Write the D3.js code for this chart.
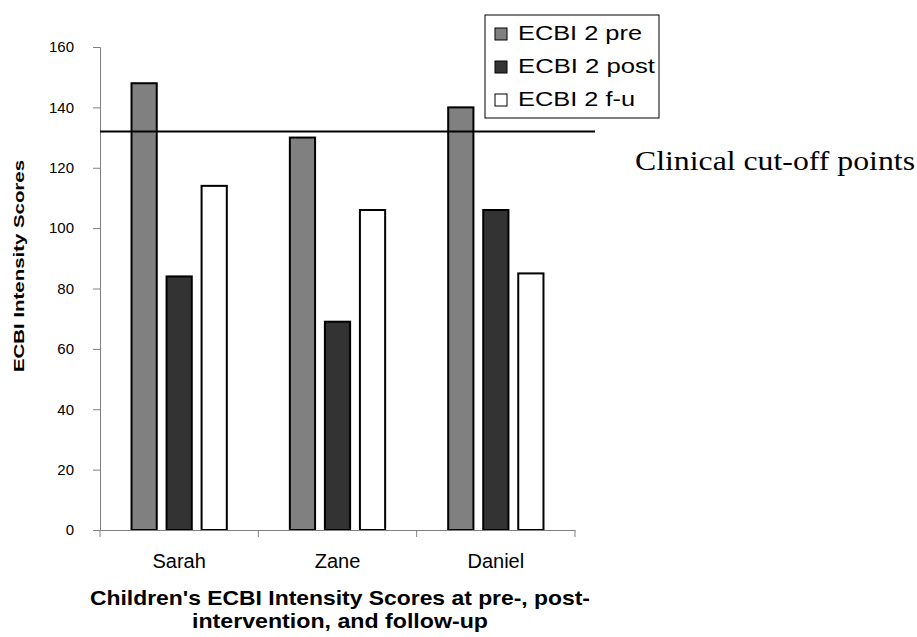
<!DOCTYPE html>
<html>
<head>
<meta charset="utf-8">
<script src="https://cdn.jsdelivr.net/npm/d3@7"></script>
<style>
  body { margin: 0; background: #fff; }
  svg { display: block; font-family: "Liberation Sans", Arial, sans-serif; }
</style>
</head>
<body>
<div id="chart"></div>
<script>
// data
var children = ["Sarah", "Zane", "Daniel"];
var seriesNames = ["ECBI 2 pre", "ECBI 2 post", "ECBI 2 f-u"];
var preScores = [148, 130, 140];
var postScores = [84, 69, 106];
var fuScores = [114, 106, 85];
var cutOff = 132;
var yTicks = [0, 20, 40, 60, 80, 100, 120, 140, 160];

var svgWidth = 917;
var svgHeight = 637;

var margin = { top: 47, right: 342, bottom: 107, left: 100 };
var width = svgWidth - margin.left - margin.right;
var height = svgHeight - margin.top - margin.bottom;

var fills = ["#808080", "#333333", "#ffffff"];
var axisColor = "#808080";

var svg = d3.select("#chart")
    .append("svg")
    .attr("width", svgWidth)
    .attr("height", svgHeight);

var chartGroup = svg.append("g")
    .attr("transform", `translate(${margin.left}, ${margin.top})`);

var x0 = d3.scaleBand()
    .domain(children)
    .range([0, width]);

var x1 = d3.scaleBand()
    .domain(seriesNames)
    .range([0, x0.bandwidth()])
    .paddingInner(0.28)
    .paddingOuter(0.9);

var y = d3.scaleLinear()
    .domain([0, 160])
    .range([height, 0]);

var rows = children.map(function(c, i) {
    return { name: c, values: [preScores[i], postScores[i], fuScores[i]] };
});

// bars
var groups = chartGroup.selectAll(".child")
    .data(rows)
    .enter()
    .append("g")
    .attr("class", "child")
    .attr("transform", d => `translate(${x0(d.name)}, 0)`);

groups.selectAll("rect")
    .data(d => d.values.map((v, j) => ({ key: seriesNames[j], value: v, idx: j })))
    .enter()
    .append("rect")
    .attr("x", d => x1(d.key))
    .attr("width", x1.bandwidth())
    .attr("y", d => y(d.value))
    .attr("height", d => height - y(d.value))
    .attr("fill", d => fills[d.idx])
    .attr("stroke", "#000")
    .attr("stroke-width", 2);

// y axis
var leftAxis = d3.axisLeft(y)
    .tickValues(yTicks)
    .tickSize(7)
    .tickPadding(19);

var YAxis = chartGroup.append("g").call(leftAxis);
YAxis.select(".domain").attr("stroke", axisColor);
YAxis.selectAll(".tick line").attr("stroke", axisColor);
YAxis.selectAll("text")
    .attr("font-family", "Liberation Sans, Arial, sans-serif")
    .attr("font-size", 15)
    .attr("fill", "#000");

// x axis: line + ticks on category boundaries
var XAxis = chartGroup.append("g")
    .attr("transform", `translate(0, ${height})`)
    .call(d3.axisBottom(x0).tickSize(0).tickPadding(24));
XAxis.select(".domain").attr("stroke", axisColor);
XAxis.selectAll("text")
    .attr("font-family", "Liberation Sans, Arial, sans-serif")
    .attr("font-size", 20)
    .attr("fill", "#000");

var bounds = children.map(c => x0(c)).concat([x0.range()[1]]);
XAxis.selectAll(".bound")
    .data(bounds)
    .enter()
    .append("line")
    .attr("class", "bound")
    .attr("x1", d => d)
    .attr("x2", d => d)
    .attr("y1", 0)
    .attr("y2", 7)
    .attr("stroke", axisColor);

// clinical cut-off line
chartGroup.append("line")
    .attr("x1", 0)
    .attr("x2", width + 20)
    .attr("y1", y(cutOff))
    .attr("y2", y(cutOff))
    .attr("stroke", "#000")
    .attr("stroke-width", 2);

svg.append("text")
    .attr("x", 635)
    .attr("y", 170)
    .attr("font-family", "Liberation Serif, 'Times New Roman', serif")
    .attr("font-size", 27)
    .attr("textLength", 280)
    .attr("lengthAdjust", "spacingAndGlyphs")
    .text("Clinical cut-off points");

// axis titles
svg.append("text")
    .attr("transform", "rotate(-90)")
    .attr("x", -266)
    .attr("y", 24)
    .attr("text-anchor", "middle")
    .attr("font-weight", "bold")
    .attr("font-size", 15)
    .attr("textLength", 212)
    .attr("lengthAdjust", "spacingAndGlyphs")
    .text("ECBI Intensity Scores");

var xTitle = svg.append("g")
    .attr("font-weight", "bold")
    .attr("font-size", 21)
    .attr("text-anchor", "middle");
xTitle.append("text")
    .attr("x", 340)
    .attr("y", 605)
    .attr("textLength", 500)
    .attr("lengthAdjust", "spacingAndGlyphs")
    .text("Children's ECBI Intensity Scores at pre-, post-");
xTitle.append("text")
    .attr("x", 340)
    .attr("y", 628)
    .attr("textLength", 296)
    .attr("lengthAdjust", "spacingAndGlyphs")
    .text("intervention, and follow-up");

// legend
var legend = svg.append("g")
    .attr("transform", "translate(485, 15)");
legend.append("rect")
    .attr("width", 174)
    .attr("height", 103)
    .attr("fill", "#fff")
    .attr("stroke", "#000")
    .attr("stroke-width", 1);

var legendWidths = [124, 137, 117];
var items = legend.selectAll(".item")
    .data(seriesNames)
    .enter()
    .append("g")
    .attr("class", "item")
    .attr("transform", (d, i) => `translate(10, ${13 + i * 33})`);
items.append("rect")
    .attr("width", 12)
    .attr("height", 12)
    .attr("fill", (d, i) => fills[i])
    .attr("stroke", "#000")
    .attr("stroke-width", 1);
items.append("text")
    .attr("x", 23)
    .attr("y", 12)
    .attr("font-size", 20)
    .attr("textLength", (d, i) => legendWidths[i])
    .attr("lengthAdjust", "spacingAndGlyphs")
    .text(d => d);
</script>
</body>
</html>
